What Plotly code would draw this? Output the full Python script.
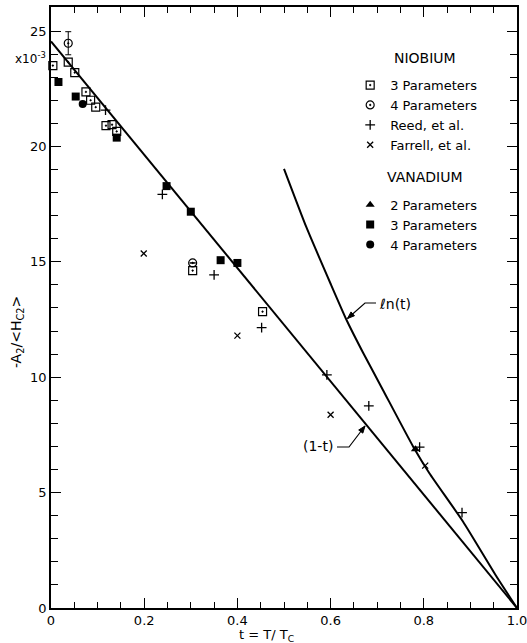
import math
import plotly.graph_objects as go

# ---------------- data ----------------
# Niobium
nb3_t = [0.004, 0.037, 0.051, 0.075, 0.085, 0.096, 0.118, 0.131, 0.141, 0.304, 0.454]
nb3_y = [23.5, 23.65, 23.2, 22.36, 22.0, 21.7, 20.9, 20.94, 20.65, 14.62, 12.84]

nb4_t = [0.037, 0.304]
nb4_y = [24.47, 14.95]
nb4_err = [0.5, 0.0]

reed_t = [0.117, 0.239, 0.350, 0.452, 0.592, 0.682, 0.791, 0.882]
reed_y = [21.57, 17.92, 14.43, 12.15, 10.1, 8.76, 6.97, 4.13]

farrell_t = [0.199, 0.400, 0.600, 0.803]
farrell_y = [15.36, 11.8, 8.37, 6.17]

# Vanadium
v2_t = [0.782]
v2_y = [6.88]

v3_t = [0.016, 0.053, 0.141, 0.248, 0.300, 0.364, 0.400]
v3_y = [22.79, 22.16, 20.38, 18.28, 17.17, 15.07, 14.95]

v4_t = [0.068]
v4_y = [21.84]

# Theory curves
lin_t = [0.0, 1.0]
lin_y = [24.55, 0.0]

ln_t = [0.5, 0.548, 0.6, 0.634, 0.670, 0.712, 0.777, 0.812, 0.884, 0.955, 1.0]
ln_y = [19.03, 16.5, 14.05, 12.49, 11.05, 9.46, 7.0, 5.84, 3.75, 1.4, 0.0]

x_labelvals = [0.0, 0.2, 0.4, 0.6, 0.8, 1.0]
x_labeltext = ["0", "0.2", "0.4", "0.6", "0.8", "1.0"]
x_oddvals = [0.1, 0.3, 0.5, 0.7, 0.9]
y_tickvals = [0, 5, 10, 15, 20, 25]
y_ticktext = ["0", "5", "10", "15", "20", "25"]

X_RANGE = [0, 1]
Y_RANGE = [0, 26.04]

# ---------------- layout geometry ----------------
W, H = 527, 643
ML, MR, MT, MB = 51, 10, 7, 35
PW, PH = W - ML - MR, H - MT - MB


def dx(px):
    return X_RANGE[0] + (px - ML) / PW * (X_RANGE[1] - X_RANGE[0])


def dy(py):
    return Y_RANGE[0] + (MT + PH - py) / PH * (Y_RANGE[1] - Y_RANGE[0])


def leader(points_px, head_len=7.0, head_half=2.6):
    """Polyline leader ending in a filled arrowhead (pixel inputs)."""
    path = "M " + " L ".join(f"{dx(x)},{dy(y)}" for x, y in points_px)
    (x0, y0), (x1, y1) = points_px[-2], points_px[-1]
    L = math.hypot(x1 - x0, y1 - y0)
    ux, uy = (x1 - x0) / L, (y1 - y0) / L
    bx, by = x1 - head_len * ux, y1 - head_len * uy
    nx, ny = -uy, ux
    p1 = (bx + head_half * nx, by + head_half * ny)
    p2 = (bx - head_half * nx, by - head_half * ny)
    head = (f"M {dx(x1)},{dy(y1)} L {dx(p1[0])},{dy(p1[1])} "
            f"L {dx(p2[0])},{dy(p2[1])} Z")
    return [
        dict(type="path", path=path, xref="x", yref="y",
             line=dict(color="black", width=1.2)),
        dict(type="path", path=head, xref="x", yref="y",
             fillcolor="black", line=dict(color="black", width=1)),
    ]


# ---------------- figure ----------------
FONT = "DejaVu Sans"
fig = go.Figure()

fig.add_trace(go.Scatter(x=lin_t, y=lin_y, mode="lines",
                         line=dict(color="black", width=2), showlegend=False,
                         hoverinfo="skip"))
fig.add_trace(go.Scatter(x=ln_t, y=ln_y, mode="lines",
                         line=dict(color="black", width=2, shape="spline", smoothing=0.5),
                         showlegend=False, hoverinfo="skip"))

fig.add_trace(go.Scatter(x=nb3_t, y=nb3_y, mode="markers", name="3 Parameters",
                         legendgroup="nb",
                         marker=dict(symbol="square-open-dot", size=8, color="black",
                                     line=dict(color="black", width=1.2)),
                         cliponaxis=False))
fig.add_trace(go.Scatter(x=nb4_t, y=nb4_y, mode="markers", name="4 Parameters",
                         legendgroup="nb",
                         error_y=dict(type="data", array=nb4_err, visible=True,
                                      color="black", thickness=1, width=3),
                         marker=dict(symbol="circle-open-dot", size=8, color="black",
                                     line=dict(color="black", width=1.2)),
                         cliponaxis=False))
fig.add_trace(go.Scatter(x=reed_t, y=reed_y, mode="markers", name="Reed, et al.",
                         legendgroup="nb",
                         marker=dict(symbol="cross-thin", size=7, color="black",
                                     line=dict(color="black", width=1.3)),
                         cliponaxis=False))
fig.add_trace(go.Scatter(x=farrell_t, y=farrell_y, mode="markers", name="Farrell, et al.",
                         legendgroup="nb",
                         marker=dict(symbol="x-thin", size=6, color="black",
                                     line=dict(color="black", width=1.3)),
                         cliponaxis=False))
fig.add_trace(go.Scatter(x=v2_t, y=v2_y, mode="markers", name="2 Parameters",
                         legendgroup="v",
                         marker=dict(symbol="triangle-up", size=8, color="black"),
                         cliponaxis=False))
fig.add_trace(go.Scatter(x=v3_t, y=v3_y, mode="markers", name="3 Parameters",
                         legendgroup="v",
                         marker=dict(symbol="square", size=8, color="black"),
                         cliponaxis=False))
fig.add_trace(go.Scatter(x=v4_t, y=v4_y, mode="markers", name="4 Parameters",
                         legendgroup="v",
                         marker=dict(symbol="circle", size=8, color="black"),
                         cliponaxis=False))

axis_common = dict(showline=True, linecolor="black", linewidth=1.5, mirror="ticks",
                   ticks="inside", tickcolor="black", tickwidth=1.2,
                   showgrid=False, zeroline=False, ticklabeloverflow="allow",
                   tickfont=dict(family=FONT, size=13, color="black"))

fig.update_xaxes(range=X_RANGE, tickmode="array", tickvals=x_labelvals, ticktext=x_labeltext,
                 ticklen=10,
                 minor=dict(dtick=0.05, ticks="inside", ticklen=6, tickcolor="black",
                            tickwidth=1.2, showgrid=False),
                 **axis_common)
fig.update_yaxes(range=Y_RANGE, tickmode="array", tickvals=y_tickvals, ticktext=y_ticktext,
                 ticklen=10,
                 minor=dict(dtick=1, ticks="inside", ticklen=7, tickcolor="black",
                            tickwidth=1.2, showgrid=False),
                 **axis_common)

# long unlabeled ticks at the odd tenths (overlaid axis)
fig.update_layout(xaxis2=dict(overlaying="x", side="bottom", range=X_RANGE,
                              tickmode="array", tickvals=x_oddvals, showticklabels=False,
                              ticks="inside", ticklen=10, tickwidth=1.2, tickcolor="black",
                              showline=False, showgrid=False, zeroline=False,
                              anchor="y"))

annotations = [
    dict(text="NIOBIUM", xref="paper", yref="paper", x=0.8026, y=0.915,
         xanchor="center", yanchor="middle", showarrow=False,
         font=dict(family=FONT, size=14, color="black")),
    dict(text="VANADIUM", xref="paper", yref="paper", x=0.8026, y=0.717,
         xanchor="center", yanchor="middle", showarrow=False,
         font=dict(family=FONT, size=14, color="black")),
    dict(text="-A<sub>2</sub>/&lt;H<sub>C2</sub>&gt;", xref="paper", yref="paper",
         x=-0.073, y=0.459, xanchor="center", yanchor="middle", textangle=-90,
         showarrow=False, font=dict(family=FONT, size=14, color="black")),
    dict(text="x10<sup>-3</sup>", xref="paper", yref="paper", x=-0.0815, y=0.915,
         xanchor="left", yanchor="middle", showarrow=False,
         font=dict(family=FONT, size=12, color="black")),
    dict(text="t = T/ T<sub>C</sub>", xref="paper", yref="paper", x=0.4635, y=-0.045,
         xanchor="center", yanchor="middle", showarrow=False,
         font=dict(family=FONT, size=13, color="black")),
    dict(text="\u2113n(t)", x=dx(377), y=dy(304), xref="x", yref="y", xanchor="left",
         yanchor="middle", showarrow=False, font=dict(family=FONT, size=14, color="black")),
    dict(text="(1-t)", x=dx(335), y=dy(446), xref="x", yref="y", xanchor="right",
         yanchor="middle", showarrow=False, font=dict(family=FONT, size=14, color="black")),
]

shapes = []
shapes += leader([(376, 303), (365, 303), (347.5, 318.5)])
shapes += leader([(337, 447), (349, 447), (365, 426)])

fig.update_layout(
    width=W, height=H,
    margin=dict(l=ML, r=MR, t=MT, b=MB, autoexpand=False),
    paper_bgcolor="white", plot_bgcolor="white",
    font=dict(family=FONT, size=13, color="black"),
    annotations=annotations,
    shapes=shapes,
    legend=dict(x=0.642, y=0.895, xanchor="left", yanchor="top",
                bgcolor="rgba(0,0,0,0)", borderwidth=0,
                font=dict(family=FONT, size=13, color="black"),
                tracegroupgap=40, itemclick=False, itemdoubleclick=False),
    showlegend=True,
)

fig.write_html("out.html", config={"displayModeBar": False},
               post_script="document.body.style.margin='0px';")
